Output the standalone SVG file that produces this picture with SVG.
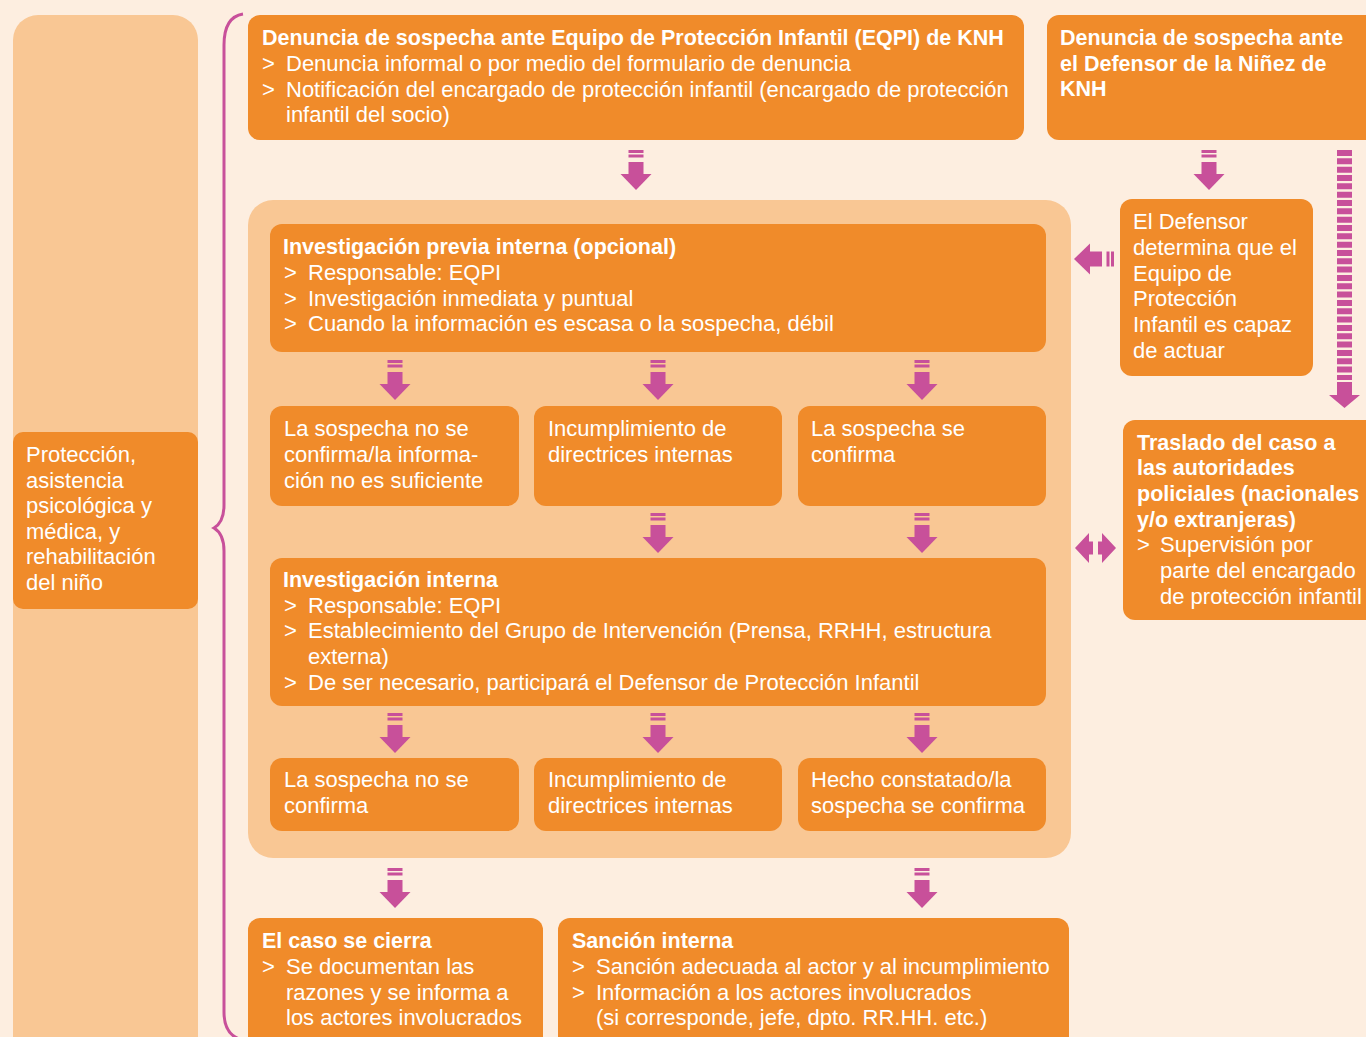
<svg xmlns="http://www.w3.org/2000/svg" xmlns:xlink="http://www.w3.org/1999/xlink" width="1366" height="1037" viewBox="0 0 1366 1037">
<defs>
<style>
.bg{fill:#FDEEE0}
.lt{fill:#F9C794}
.or{fill:#F08B2A}
.mg{fill:#C8509A}
text{font-family:"Liberation Sans",Arial,sans-serif;fill:#FFFFFF;font-size:22px}
.b{font-weight:bold;font-size:21.5px}
.brace{fill:none;stroke:#C8509A;stroke-width:3}
</style>
<g id="arrowDown">
<rect x="-7.5" y="0" width="15" height="3"/>
<rect x="-7.5" y="4.5" width="15" height="3"/>
<rect x="-7.5" y="12" width="15" height="12.5"/>
<polygon points="-15.5,24 15.5,24 0,40"/>
</g>
</defs>
<rect class="bg" x="0" y="0" width="1366" height="1037"/>

<g id="side-panel">
<rect class="lt" x="13" y="15" width="185" height="1050" rx="25"/>
</g>
<g id="node-proteccion">
<rect class="or" x="13" y="432" width="185" height="177" rx="10"/>
<text x="26" y="462">Protección,</text>
<text x="26" y="488">asistencia</text>
<text x="26" y="513">psicológica y</text>
<text x="26" y="539">médica, y</text>
<text x="26" y="564">rehabilitación</text>
<text x="26" y="590">del niño</text>
</g>

<g id="container">
<rect class="lt" x="248" y="200" width="823" height="658" rx="25"/>
</g>

<g id="node-denuncia-eqpi">
<rect class="or" x="248" y="15" width="776" height="125" rx="12"/>
<text class="b" x="262" y="45">Denuncia de sospecha ante Equipo de Protección Infantil (EQPI) de KNH</text>
<text x="262" y="71">&gt;</text><text x="286" y="71">Denuncia informal o por medio del formulario de denuncia</text>
<text x="262" y="97">&gt;</text><text x="286" y="97">Notificación del encargado de protección infantil (encargado de protección</text>
<text x="286" y="122">infantil del socio)</text>
</g>

<g id="node-denuncia-defensor">
<rect class="or" x="1047" y="15" width="340" height="125" rx="12"/>
<text class="b" x="1060" y="45">Denuncia de sospecha ante</text>
<text class="b" x="1060" y="71">el Defensor de la Niñez de</text>
<text class="b" x="1060" y="96">KNH</text>
</g>

<g id="node-investigacion-previa">
<rect class="or" x="270" y="224" width="776" height="128" rx="12"/>
<text class="b" x="283" y="254">Investigación previa interna (opcional)</text>
<text x="284" y="280">&gt;</text><text x="308" y="280">Responsable: EQPI</text>
<text x="284" y="305.5">&gt;</text><text x="308" y="305.5">Investigación inmediata y puntual</text>
<text x="284" y="331">&gt;</text><text x="308" y="331">Cuando la información es escasa o la sospecha, débil</text>
</g>

<g id="node-no-confirma-1">
<rect class="or" x="270" y="406" width="249" height="100" rx="12"/>
<text x="284" y="436">La sospecha no se</text>
<text x="284" y="462">confirma/la informa-</text>
<text x="284" y="488">ción no es suficiente</text>
</g>
<g id="node-incumplimiento-1">
<rect class="or" x="534" y="406" width="248" height="100" rx="12"/>
<text x="548" y="436">Incumplimiento de</text>
<text x="548" y="462">directrices internas</text>
</g>
<g id="node-confirma-1">
<rect class="or" x="798" y="406" width="248" height="100" rx="12"/>
<text x="811" y="436">La sospecha se</text>
<text x="811" y="462">confirma</text>
</g>

<g id="node-investigacion-interna">
<rect class="or" x="270" y="558" width="776" height="148" rx="12"/>
<text class="b" x="283" y="587">Investigación interna</text>
<text x="284" y="613">&gt;</text><text x="308" y="613">Responsable: EQPI</text>
<text x="284" y="638">&gt;</text><text x="308" y="638">Establecimiento del Grupo de Intervención (Prensa, RRHH, estructura</text>
<text x="308" y="664">externa)</text>
<text x="284" y="690">&gt;</text><text x="308" y="690">De ser necesario, participará el Defensor de Protección Infantil</text>
</g>

<g id="node-no-confirma-2">
<rect class="or" x="270" y="758" width="249" height="73" rx="12"/>
<text x="284" y="787">La sospecha no se</text>
<text x="284" y="813">confirma</text>
</g>
<g id="node-incumplimiento-2">
<rect class="or" x="534" y="758" width="248" height="73" rx="12"/>
<text x="548" y="787">Incumplimiento de</text>
<text x="548" y="813">directrices internas</text>
</g>
<g id="node-confirma-2">
<rect class="or" x="798" y="758" width="248" height="73" rx="12"/>
<text x="811" y="787">Hecho constatado/la</text>
<text x="811" y="813">sospecha se confirma</text>
</g>

<g id="node-caso-cierra">
<rect class="or" x="248" y="918" width="295" height="140" rx="12"/>
<text class="b" x="262" y="948">El caso se cierra</text>
<text x="262" y="974">&gt;</text><text x="286" y="974">Se documentan las</text>
<text x="286" y="1000">razones y se informa a</text>
<text x="286" y="1025">los actores involucrados</text>
</g>

<g id="node-sancion">
<rect class="or" x="558" y="918" width="511" height="140" rx="12"/>
<text class="b" x="572" y="948">Sanción interna</text>
<text x="572" y="974">&gt;</text><text x="596" y="974">Sanción adecuada al actor y al incumplimiento</text>
<text x="572" y="1000">&gt;</text><text x="596" y="1000">Información a los actores involucrados</text>
<text x="596" y="1025">(si corresponde, jefe, dpto. RR.HH. etc.)</text>
</g>

<g id="node-defensor-determina">
<rect class="or" x="1120" y="199" width="193" height="177" rx="12"/>
<text x="1133" y="229">El Defensor</text>
<text x="1133" y="255">determina que el</text>
<text x="1133" y="281">Equipo de</text>
<text x="1133" y="306">Protección</text>
<text x="1133" y="332">Infantil es capaz</text>
<text x="1133" y="358">de actuar</text>
</g>

<g id="node-traslado">
<rect class="or" x="1123" y="420" width="270" height="200" rx="12"/>
<text class="b" x="1137" y="450">Traslado del caso a</text>
<text class="b" x="1137" y="475">las autoridades</text>
<text class="b" x="1137" y="501">policiales (nacionales</text>
<text class="b" x="1137" y="527">y/o extranjeras)</text>
<text x="1137" y="552">&gt;</text><text x="1160" y="552">Supervisión por</text>
<text x="1160" y="578">parte del encargado</text>
<text x="1160" y="604">de protección infantil</text>
</g>

<g id="connectors" class="mg">
<path class="brace" d="M243,14 Q224,17 224,45 L224,505 Q224,522 214,528 Q224,534 224,551 L224,1012 Q224,1036 243,1040"/>
<use xlink:href="#arrowDown" href="#arrowDown" transform="translate(636,150)"/>
<use xlink:href="#arrowDown" href="#arrowDown" transform="translate(1209,150)"/>
<use xlink:href="#arrowDown" href="#arrowDown" transform="translate(395,360)"/>
<use xlink:href="#arrowDown" href="#arrowDown" transform="translate(658,360)"/>
<use xlink:href="#arrowDown" href="#arrowDown" transform="translate(922,360)"/>
<use xlink:href="#arrowDown" href="#arrowDown" transform="translate(658,513)"/>
<use xlink:href="#arrowDown" href="#arrowDown" transform="translate(922,513)"/>
<use xlink:href="#arrowDown" href="#arrowDown" transform="translate(395,713)"/>
<use xlink:href="#arrowDown" href="#arrowDown" transform="translate(658,713)"/>
<use xlink:href="#arrowDown" href="#arrowDown" transform="translate(922,713)"/>
<use xlink:href="#arrowDown" href="#arrowDown" transform="translate(395,868)"/>
<use xlink:href="#arrowDown" href="#arrowDown" transform="translate(922,868)"/>
<use xlink:href="#arrowDown" href="#arrowDown" transform="translate(1114,259) rotate(90)"/>
<polygon points="1075,548 1089,533 1089,541.5 1093,541.5 1093,554.5 1089,554.5 1089,563"/>
<polygon points="1116,548 1102,533 1102,541.5 1098,541.5 1098,554.5 1102,554.5 1102,563"/>
<line x1="1344.5" y1="150" x2="1344.5" y2="380" stroke="#C8509A" stroke-width="15" stroke-dasharray="6 2.33"/>
<rect x="1337" y="382" width="15" height="13"/>
<polygon points="1329,395 1360,395 1344.5,408"/>
</g>
</svg>
